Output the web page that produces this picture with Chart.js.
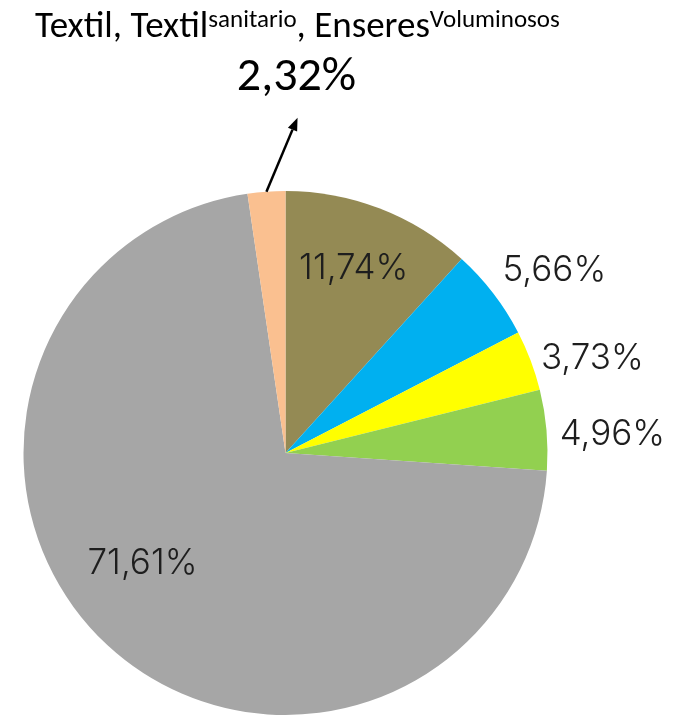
<!DOCTYPE html>
<html><head><meta charset="utf-8">
<script src="https://cdn.jsdelivr.net/npm/chart.js@4"></script>
<style>
html,body{margin:0;padding:0;background:#fff;}
#wrap{position:relative;width:687px;height:716px;overflow:hidden;}
canvas{position:absolute;left:0;top:0;}
#title{position:absolute;left:35px;top:4px;font-family:Carlito,'Liberation Sans Narrow','Noto Sans',sans-serif;font-size:37px;line-height:42px;color:#000;white-space:nowrap;}
#title sup{font-size:25px;vertical-align:top;position:relative;top:-6px;}
</style></head>
<body>
<div id="wrap">
<canvas id="c" width="687" height="716"></canvas>
<div id="title">Textil, Textil<sup>sanitario</sup>, Enseres<sup>Voluminosos</sup></div>
</div>
<script>
const categories = ['', '', '', '', '', 'Textil, Textil sanitario, Enseres Voluminosos'];
const values = [11.74, 5.66, 3.73, 4.96, 71.61, 2.32];
const valueLabels = ['11,74%', '5,66%', '3,73%', '4,96%', '71,61%', '2,32%'];
const colors = ['#948A54', '#00B0F0', '#FFFF00', '#92D050', '#A6A6A6', '#FAC090'];

// label placement style (radius fraction, angle offset in degrees)
const labelStyle = [
  {r: 0.75, da: -0.8},
  {r: 1.24, da: 3.4},
  {r: 1.225, da: 3.6},
  {r: 1.25, da: 1.7},
  {r: 0.69, da: 9.5},
  null
];

const labelPlugin = {
  id: 'pieLabels',
  afterDatasetsDraw(chart) {
    const ctx = chart.ctx;
    const meta = chart.getDatasetMeta(0);
    ctx.save();
    meta.data.forEach((arc, i) => {
      const cx = arc.x, cy = arc.y, R = arc.outerRadius;
      const mid = (arc.startAngle + arc.endAngle) / 2;
      const st = labelStyle[i];
      if (st) {
        const a = mid + st.da * Math.PI / 180;
        const x = cx + R * st.r * Math.cos(a);
        const y = cy + R * st.r * Math.sin(a);
        ctx.font = '300 35px Inter, Lato, sans-serif';
        ctx.fillStyle = '#1e1e1e';
        ctx.textAlign = 'center';
        ctx.textBaseline = 'middle';
        ctx.fillText(valueLabels[i], x, y);
      } else {
        // callout with arrow
        const ex = cx + R * Math.cos(mid);
        const ey = cy + R * Math.sin(mid);
        const tx = cx + 0.046 * R, ty = cy - 1.28 * R;
        ctx.strokeStyle = '#000';
        ctx.fillStyle = '#000';
        ctx.lineWidth = 2.5;
        const ang = Math.atan2(ty - ey, tx - ex);
        const hl = 13, hw = 5;
        const bx = tx - hl * Math.cos(ang), by = ty - hl * Math.sin(ang);
        ctx.beginPath();
        ctx.moveTo(ex, ey);
        ctx.lineTo(bx, by);
        ctx.stroke();
        ctx.beginPath();
        ctx.moveTo(tx, ty);
        ctx.lineTo(bx + hw * Math.sin(ang), by - hw * Math.cos(ang));
        ctx.lineTo(bx - hw * Math.sin(ang), by + hw * Math.cos(ang));
        ctx.closePath();
        ctx.fill();
        ctx.font = '48px Carlito, "Liberation Sans Narrow", "Noto Sans", sans-serif';
        ctx.textAlign = 'center';
        ctx.textBaseline = 'middle';
        ctx.fillText(valueLabels[i], cx + 0.042 * R, cy - 1.43 * R);
      }
    });
    ctx.restore();
  }
};

new Chart(document.getElementById('c'), {
  type: 'pie',
  data: {
    labels: categories,
    datasets: [{
      data: values,
      backgroundColor: colors,
      borderWidth: 0
    }]
  },
  options: {
    responsive: false,
    animation: false,
    layout: {padding: {left: 23, right: 139, top: 191, bottom: 1}},
    plugins: {
      legend: {display: false},
      tooltip: {enabled: false},
      title: {display: false}
    }
  },
  plugins: [labelPlugin]
});
</script>
</body></html>
